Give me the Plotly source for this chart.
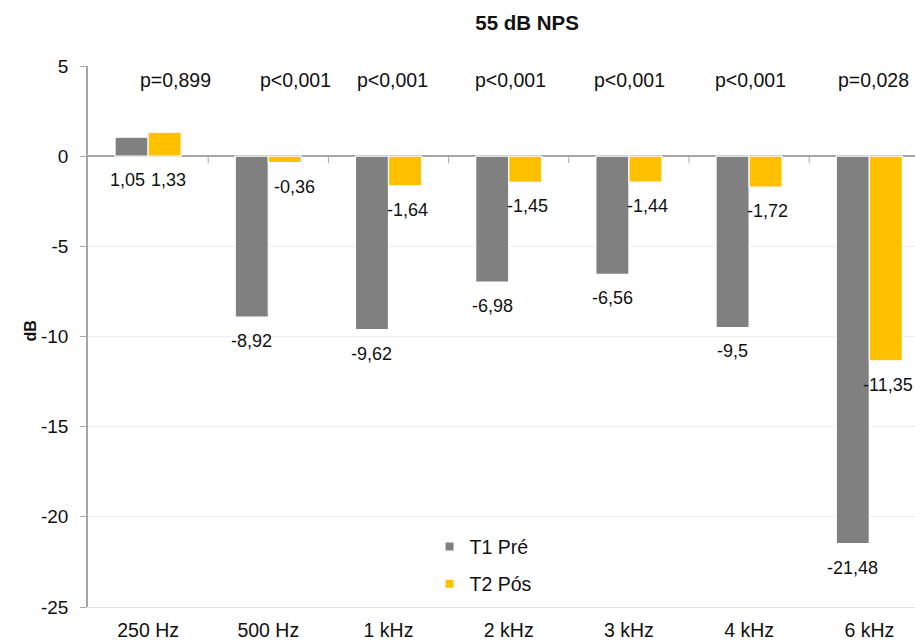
import plotly.graph_objects as go

categories = ["250 Hz", "500 Hz", "1 kHz", "2 kHz", "3 kHz", "4 kHz", "6 kHz"]
t1_pre = [1.05, -8.92, -9.62, -6.98, -6.56, -9.5, -21.48]
t2_pos = [1.33, -0.36, -1.64, -1.45, -1.44, -1.72, -11.35]
p_values = ["p=0,899", "p<0,001", "p<0,001", "p<0,001", "p<0,001", "p<0,001", "p=0,028"]
y_ticks = [5, 0, -5, -10, -15, -20, -25]
p_shift = [27, 27, 4, 2, 1, 1, 4]

GRAY = "#808080"
YELLOW = "#FFC000"
FONT = "Liberation Sans, Arial, sans-serif"

def fmt(v):
    s = ("%.2f" % v).rstrip("0").rstrip(".")
    return s.replace(".", ",")

xs = list(range(len(categories)))
bw = 0.275

fig = go.Figure()
fig.add_trace(go.Bar(x=xs, y=t1_pre, name="T1 Pré", marker=dict(color=GRAY, line=dict(color="white", width=1.2)),
                     width=bw, offset=-bw, showlegend=False))
fig.add_trace(go.Bar(x=xs, y=t2_pos, name="T2 Pós", marker=dict(color=YELLOW, line=dict(color="white", width=1.2)),
                     width=bw, offset=0, showlegend=False))
# legend entries (small square symbols)
fig.add_trace(go.Scatter(x=[None], y=[None], mode="markers", name="T1 Pré",
                         marker=dict(symbol="square", size=8, color=GRAY), legend="legend"))
fig.add_trace(go.Scatter(x=[None], y=[None], mode="markers", name="T2 Pós",
                         marker=dict(symbol="square", size=8, color=YELLOW), legend="legend2"))

ann = []
for i, v in enumerate(t1_pre):
    ann.append(dict(x=i - bw / 2, y=min(v, 0), text=fmt(v), showarrow=False, yanchor="top", yshift=-12,
                    xshift=-4 if i == 0 else 0, font=dict(family=FONT, size=18, color="#111")))
for i, v in enumerate(t2_pos):
    ann.append(dict(x=i + bw / 2, y=min(v, 0), text=fmt(v), showarrow=False, yanchor="top", yshift=-12,
                    xshift=10 if i == 1 else (4 if i == 0 else 2), font=dict(family=FONT, size=18, color="#111")))
for i, p in enumerate(p_values):
    ann.append(dict(x=i, y=5, text=p, showarrow=False, yanchor="middle", yshift=-14, xshift=p_shift[i],
                    font=dict(family=FONT, size=19.5, color="#111")))
ann.append(dict(x=-0.0822, y=0.510, xref="paper", yref="paper", text="<b>dB</b>", textangle=-90, showarrow=False,
                font=dict(family=FONT, size=16, color="#111")))

shapes = []
for i in range(len(categories)):
    shapes.append(dict(type="line", xref="x", yref="y", x0=i + 0.5, x1=i + 0.5, y0=0, y1=-7,
                       ysizemode="pixel", yanchor=0, line=dict(color="#a6a6a6", width=1)))

fig.update_layout(
    width=915, height=641,
    margin=dict(l=88, r=0, t=66, b=34),
    plot_bgcolor="white", paper_bgcolor="white",
    font=dict(family=FONT, color="#111"),
    title=dict(text="<b>55 dB NPS</b>", x=0.531, xref="paper", xanchor="center", y=0.965, yanchor="middle",
               font=dict(family=FONT, size=20.5, color="#111")),
    barmode="overlay",
    showlegend=True,
    legend=dict(x=0.413, y=0.111, xanchor="left", yanchor="middle", bgcolor="rgba(0,0,0,0)",
                font=dict(family=FONT, size=19.5), itemwidth=30),
    legend2=dict(x=0.413, y=0.0425, xanchor="left", yanchor="middle", bgcolor="rgba(0,0,0,0)",
                 font=dict(family=FONT, size=19.5), itemwidth=30),
    xaxis=dict(range=[-0.5, 6.38], tickvals=xs, ticktext=categories, showgrid=False, zeroline=False,
               showline=True, linecolor="#e6e6e6", linewidth=1, ticks="", ticklabelstandoff=6,
               tickfont=dict(family=FONT, size=19.5, color="#111"), automargin=False),
    yaxis=dict(range=[-25, 5], tickvals=y_ticks, ticktext=[str(t) for t in y_ticks],
               showgrid=True, gridcolor="#eeeeee", gridwidth=1,
               zeroline=True, zerolinecolor="#a6a6a6", zerolinewidth=1.5,
               showline=True, linecolor="#a6a6a6", linewidth=1.5, ticks="outside", ticklen=6, tickcolor="#a6a6a6",
               ticklabelstandoff=8,
               tickfont=dict(family=FONT, size=19, color="#111"), automargin=False),
    annotations=ann,
    shapes=shapes,
)

fig.write_html("out.html", config={"displayModeBar": False},
               post_script="document.body.style.margin='0';document.body.style.overflow='hidden';")
